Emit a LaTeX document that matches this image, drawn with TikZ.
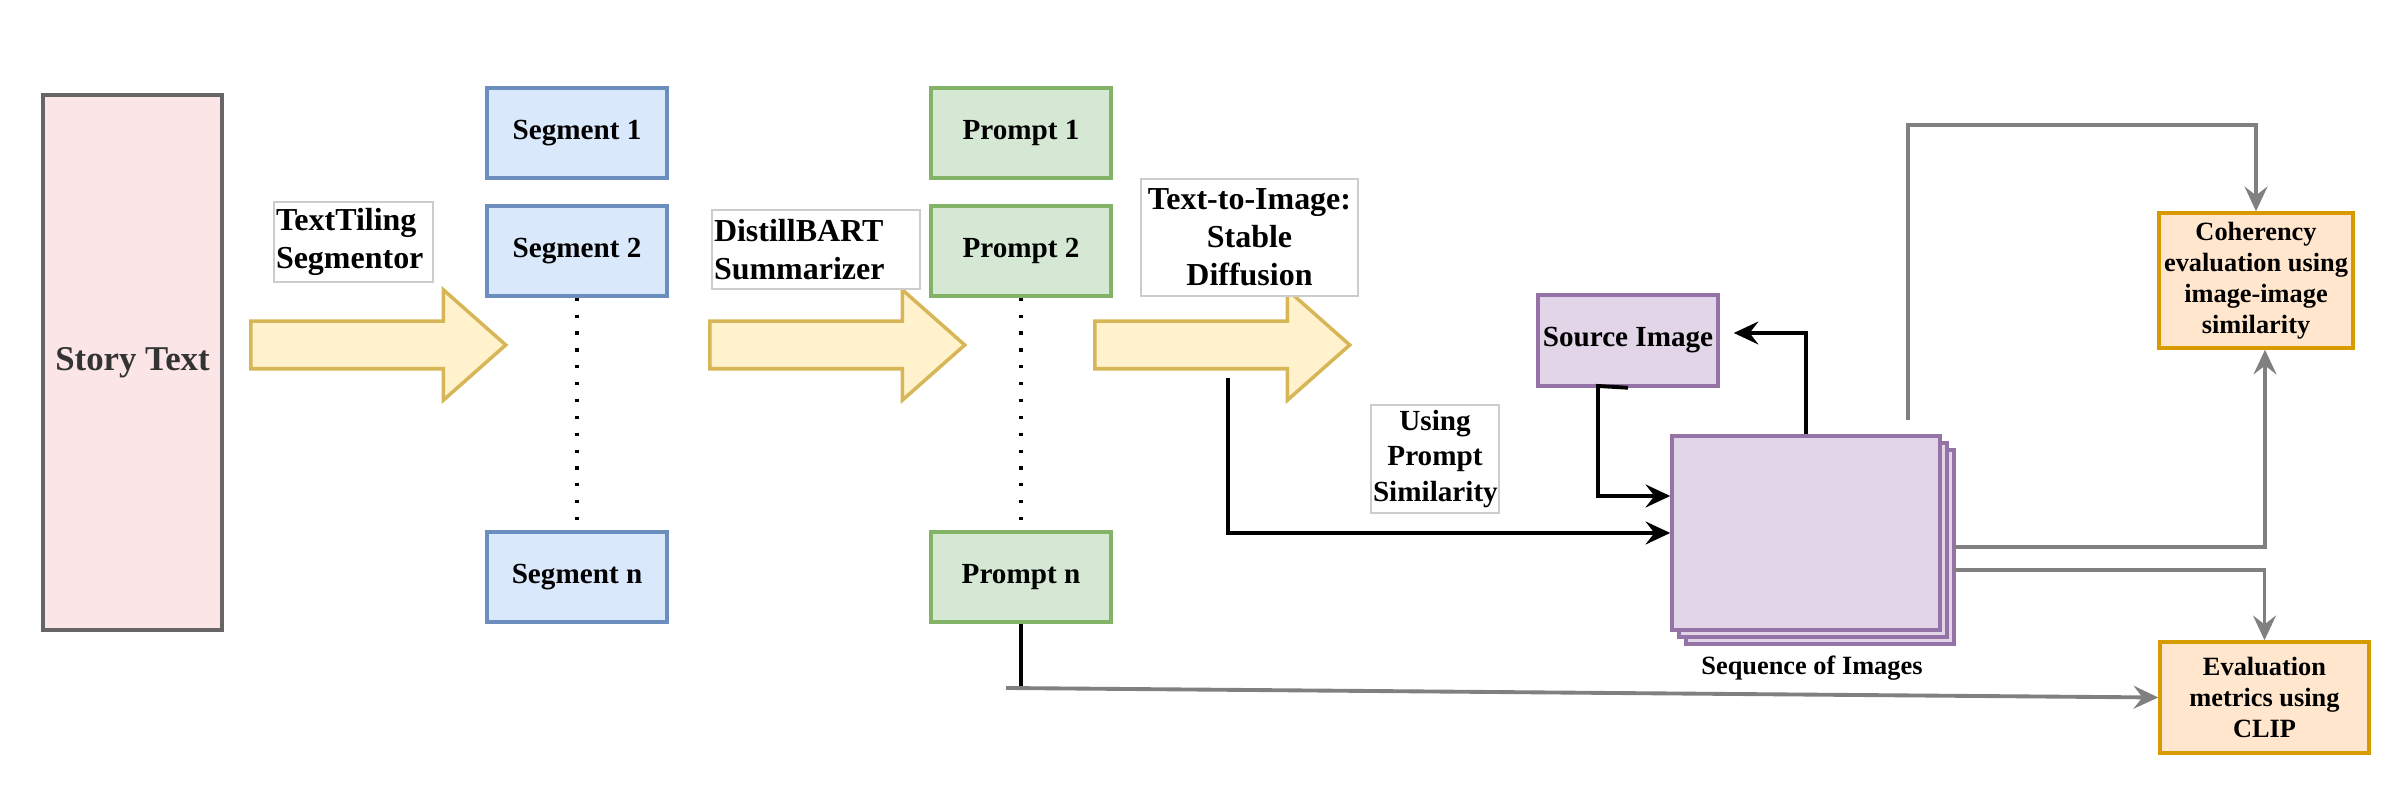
\documentclass[tikz,border=0pt]{standalone}
\usepackage{fontspec}
\setmainfont{Liberation Serif}
\usetikzlibrary{arrows.meta,shapes.arrows,shadows}

\definecolor{storyfill}{HTML}{FBE5E7}
\definecolor{storyline}{HTML}{666666}
\definecolor{storytext}{HTML}{333333}
\definecolor{segfill}{HTML}{DAE8FC}
\definecolor{segline}{HTML}{6C8EBF}
\definecolor{promptfill}{HTML}{D5E8D4}
\definecolor{promptline}{HTML}{82B366}
\definecolor{arrowfill}{HTML}{FFF2CC}
\definecolor{arrowline}{HTML}{D6B656}
\definecolor{imgfill}{HTML}{E1D5E7}
\definecolor{imgline}{HTML}{9673A6}
\definecolor{evalfill}{HTML}{FFE6CC}
\definecolor{evalline}{HTML}{D79B00}
\definecolor{edgegray}{HTML}{808080}
\definecolor{labelline}{HTML}{CCCCCC}

\begin{document}
\begin{tikzpicture}[
    box/.style={draw, line width=1pt, align=center, inner sep=0pt,
        font=\bfseries\fontsize{8.3}{10}\selectfont},
    segbox/.style={box, fill=segfill, draw=segline, minimum width=1.8cm, minimum height=0.9cm},
    promptbox/.style={box, fill=promptfill, draw=promptline, minimum width=1.8cm, minimum height=0.9cm},
    imgbox/.style={box, fill=imgfill, draw=imgline},
    evalbox/.style={box, fill=evalfill, draw=evalline, font=\bfseries\fontsize{7.5}{8.8}\selectfont},
    labelbox/.style={draw=labelline, line width=0.3pt, fill=white, inner ysep=0pt, inner xsep=0.02cm,
        font=\bfseries\fontsize{9.1}{10.8}\selectfont},
    bigarrow/.style={single arrow, draw=arrowline, fill=arrowfill, line width=1pt, anchor=tail,
        inner xsep=0pt, inner ysep=0.22cm, single arrow head extend=0.315cm,
        single arrow tip angle=83, single arrow head indent=0pt, minimum height=2.55cm},
    link/.style={line width=1.1pt, -{Stealth[length=7pt,width=6.5pt,inset=2.5pt]}},
    glink/.style={link, draw=edgegray},
    dotline/.style={line width=0.9pt, dash pattern=on 0.9pt off 3.9pt}
]
    \useasboundingbox (0,0) rectangle (23.98,8);

    \node (story) [box, fill=storyfill, draw=storyline, text=storytext, minimum width=1.79cm,
        minimum height=5.35cm, font=\bfseries\fontsize{9.9}{12}\selectfont] at (1.325,4.375) {Story Text};

    \node (seg1) [segbox] at (5.77,6.67) {Segment 1};
    \node (seg2) [segbox] at (5.77,5.49) {Segment 2};
    \node (segn) [segbox] at (5.77,2.23) {Segment n};

    \node (prompt1) [promptbox] at (10.21,6.67) {Prompt 1};
    \node (prompt2) [promptbox] at (10.21,5.49) {Prompt 2};
    \node (promptn) [promptbox] at (10.21,2.23) {Prompt n};

    \node (arrow1) [bigarrow] at (2.49,4.55) {};
    \node (arrow2) [bigarrow] at (7.08,4.55) {};
    \node (arrow3) [bigarrow] at (10.93,4.55) {};

    \node (tiling) [labelbox, text width=1.55cm, align=left, minimum height=0.8cm] at (3.535,5.58)
        {TextTiling\\Segmentor};
    \node (bart) [labelbox, text width=2.04cm, align=left, minimum height=0.79cm] at (8.16,5.505)
        {DistillBART\\Summarizer};
    \node (t2i) [labelbox, text width=2.13cm, align=center, minimum height=1.17cm] at (12.495,5.625)
        {Text-to-Image:\\Stable\\Diffusion};
    \node (sim) [labelbox, text width=1.24cm, align=center, minimum height=1.08cm,
        font=\bfseries\fontsize{8.3}{10}\selectfont] at (14.35,3.41)
        {Using\\Prompt\\Similarity};

    \node (source) [imgbox, minimum width=1.8cm, minimum height=0.91cm] at (16.28,4.595) {Source Image};
    \node (seq) [imgbox, minimum width=2.68cm, minimum height=1.94cm,
        double copy shadow={shadow xshift=0.07cm, shadow yshift=-0.07cm}] at (18.06,2.67) {};
    \node (seqlabel) [font=\bfseries\fontsize{7.5}{9}\selectfont] at (18.12,1.32) {Sequence of Images};

    \node (coh) [evalbox, minimum width=1.94cm, minimum height=1.35cm] at (22.56,5.195)
        {Coherency\\evaluation using\\image-image\\similarity};
    \node (evalc) [evalbox, minimum width=2.09cm, minimum height=1.11cm] at (22.645,1.025)
        {Evaluation\\metrics using\\CLIP};

    \coordinate (t2iout) at (12.28,4.22);
    \coordinate (srcbend) at (15.98,4.14);
    \coordinate (graytop) at (19.08,3.80);
    \coordinate (cohbend) at (22.56,6.75);
    \coordinate (seqout1) at (19.54,2.53);
    \coordinate (seqout2) at (19.54,2.30);
    \coordinate (pnfoot) at (10.21,1.12);
    \coordinate (pnleft) at (10.06,1.12);

    \draw[dotline] (seg2) -- (segn);
    \draw[dotline] (prompt2) -- (promptn);

    \draw[link] (t2iout) |- (seq.west);
    \draw[link] (source.south) -- (srcbend) |- ([yshift=0.37cm]seq.west);
    \draw[link] (seq.north) |- ([xshift=0.14cm,yshift=0.075cm]source.east);

    \draw[glink] (graytop) |- (cohbend) -- (coh.north);
    \draw[glink] (seqout1) -| ([xshift=0.09cm]coh.south);
    \draw[glink] (seqout2) -| (evalc.north);
    \draw[line width=1.1pt] (promptn.south) -- (pnfoot);
    \draw[glink] (pnleft) -- (evalc.west);

\end{tikzpicture}
\end{document}
